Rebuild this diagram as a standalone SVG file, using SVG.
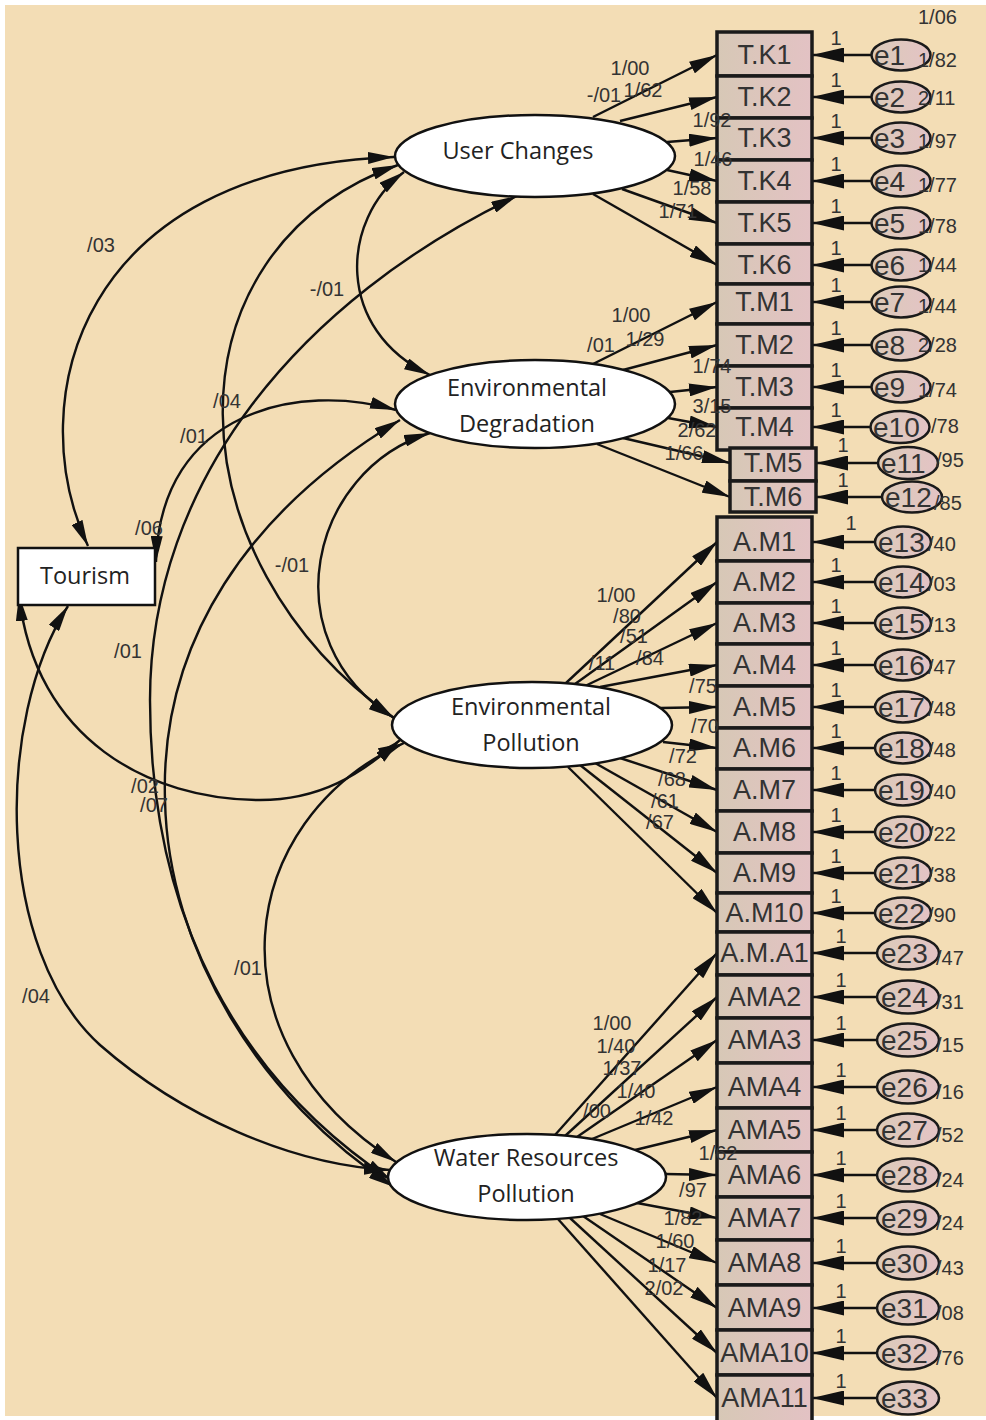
<svg xmlns="http://www.w3.org/2000/svg" width="986" height="1420" viewBox="0 0 986 1420">
<defs>
<style>
.ln{fill:none;stroke:#111;stroke-width:2.4}
.cv{marker-start:url(#ahc);marker-end:url(#ahc)}
.ld{marker-end:url(#ah)}
.er{marker-end:url(#ahe)}
.box{fill:url(#bg);stroke:#1a1a1a;stroke-width:3.5}
.err{fill:url(#eg);stroke:#1a1a1a;stroke-width:2.5}
.lat{fill:#fff;stroke:#111;stroke-width:2.5}
.bt{font-family:"Liberation Sans",Arial,sans-serif;font-size:27px;fill:#333;text-anchor:middle}
.et{font-family:"Liberation Sans",Arial,sans-serif;font-size:28px;fill:#333}
.num{font-family:"Liberation Sans",Arial,sans-serif;font-size:20px;fill:#333}
.nm{font-family:"Liberation Sans",Arial,sans-serif;font-size:20px;fill:#333;text-anchor:middle}
.lt{font-family:"Open Sans","Noto Sans",sans-serif;font-size:23.5px;fill:#222;text-anchor:middle}
</style>
<linearGradient id="bg" x1="0" y1="0" x2="1" y2="0"><stop offset="0" stop-color="#D7C8B6"/><stop offset="1" stop-color="#E3C2C4"/></linearGradient>
<linearGradient id="eg" x1="0" y1="0" x2="1" y2="0"><stop offset="0" stop-color="#DCCBB9"/><stop offset="1" stop-color="#E3C3C5"/></linearGradient>
<marker id="ah" viewBox="0 0 28 13" refX="28" refY="6.5" markerWidth="28" markerHeight="13" markerUnits="userSpaceOnUse" orient="auto-start-reverse"><path d="M0,0L28,6.5L0,13z" fill="#111"/></marker>
<marker id="ahe" viewBox="0 0 32 15" refX="32" refY="7.5" markerWidth="32" markerHeight="15" markerUnits="userSpaceOnUse" orient="auto-start-reverse"><path d="M0,0L32,7.5L0,15z" fill="#111"/></marker>
<marker id="ahc" viewBox="0 0 26 12" refX="26" refY="6" markerWidth="26" markerHeight="12" markerUnits="userSpaceOnUse" orient="auto-start-reverse"><path d="M0,0L26,6L0,12z" fill="#111"/></marker>
</defs>
<rect x="0" y="0" width="986" height="1420" fill="#fff"/>
<rect x="5" y="5" width="981" height="1411" fill="#F3DDB5"/>

<g id="connectors">
<path class="ln cv" d="M88,546 C20,400 80,168 394,157"/>
<path class="ln cv" d="M404,172 C340,220 335,330 430,375"/>
<path class="ln cv" d="M398,165 C160,250 170,560 394,718"/>
<path class="ln cv" d="M517,196 C300,300 150,480 150,700 C150,920 240,1080 391,1180"/>
<path class="ln cv" d="M400,420 C250,510 160,640 165,800 C168,950 260,1100 394,1187"/>
<path class="ln cv" d="M396,410 C300,382 160,410 156,562"/>
<path class="ln cv" d="M430,433 C310,470 270,640 394,718"/>
<path class="ln cv" d="M19,595 C35,740 150,800 260,800 C320,800 360,775 400,740"/>
<path class="ln cv" d="M68,606 C-5,720 -5,950 100,1045 C180,1115 290,1165 390,1170"/>
<path class="ln cv" d="M404,743 C235,820 205,1040 396,1162"/>
<path class="ln ld" d="M593,117 L717,55"/>
<path class="ln ld" d="M620,121 L717,97"/>
<path class="ln ld" d="M667,142 L717,138"/>
<path class="ln ld" d="M667,170 L717,181"/>
<path class="ln ld" d="M622,189 L717,223"/>
<path class="ln ld" d="M593,194 L717,265"/>
<path class="ln ld" d="M593,364 L717,302"/>
<path class="ln ld" d="M623,370 L717,345"/>
<path class="ln ld" d="M670,392 L717,387"/>
<path class="ln ld" d="M668,418 L717,427"/>
<path class="ln ld" d="M623,438 L730,463"/>
<path class="ln ld" d="M597,444 L730,497"/>
<path class="ln ld" d="M566,683 L717,542"/>
<path class="ln ld" d="M575,684 L717,582"/>
<path class="ln ld" d="M585,686 L717,623"/>
<path class="ln ld" d="M600,687 L717,665"/>
<path class="ln ld" d="M660,708 L717,707"/>
<path class="ln ld" d="M663,742 L717,748"/>
<path class="ln ld" d="M620,758 L717,790"/>
<path class="ln ld" d="M595,763 L717,832"/>
<path class="ln ld" d="M580,765 L717,873"/>
<path class="ln ld" d="M568,767 L717,913"/>
<path class="ln ld" d="M555,1135 L717,953"/>
<path class="ln ld" d="M565,1136 L717,997"/>
<path class="ln ld" d="M577,1137 L717,1040"/>
<path class="ln ld" d="M592,1139 L717,1087"/>
<path class="ln ld" d="M635,1150 L717,1130"/>
<path class="ln ld" d="M665,1174 L717,1175"/>
<path class="ln ld" d="M637,1203 L717,1218"/>
<path class="ln ld" d="M600,1214 L717,1263"/>
<path class="ln ld" d="M583,1216 L717,1308"/>
<path class="ln ld" d="M570,1218 L717,1353"/>
<path class="ln ld" d="M558,1219 L717,1398"/>
<path class="ln er" d="M871,55 L812,55"/>
<path class="ln er" d="M871,97 L812,97"/>
<path class="ln er" d="M871,138 L812,138"/>
<path class="ln er" d="M871,181 L812,181"/>
<path class="ln er" d="M871,223 L812,223"/>
<path class="ln er" d="M871,265 L812,265"/>
<path class="ln er" d="M871,302 L812,302"/>
<path class="ln er" d="M871,345 L812,345"/>
<path class="ln er" d="M871,387 L812,387"/>
<path class="ln er" d="M870,427 L812,427"/>
<path class="ln er" d="M878,463 L816,463"/>
<path class="ln er" d="M882,497 L816,497"/>
<path class="ln er" d="M875,542 L812,542"/>
<path class="ln er" d="M875,582 L812,582"/>
<path class="ln er" d="M875,623 L812,623"/>
<path class="ln er" d="M875,665 L812,665"/>
<path class="ln er" d="M875,707 L812,707"/>
<path class="ln er" d="M875,748 L812,748"/>
<path class="ln er" d="M875,790 L812,790"/>
<path class="ln er" d="M875,832 L812,832"/>
<path class="ln er" d="M875,873 L812,873"/>
<path class="ln er" d="M875,913 L812,913"/>
<path class="ln er" d="M877,953 L812,953"/>
<path class="ln er" d="M877,997 L812,997"/>
<path class="ln er" d="M877,1040 L812,1040"/>
<path class="ln er" d="M877,1087 L812,1087"/>
<path class="ln er" d="M877,1130 L812,1130"/>
<path class="ln er" d="M877,1175 L812,1175"/>
<path class="ln er" d="M877,1218 L812,1218"/>
<path class="ln er" d="M877,1263 L812,1263"/>
<path class="ln er" d="M877,1308 L812,1308"/>
<path class="ln er" d="M877,1353 L812,1353"/>
<path class="ln er" d="M877,1398 L812,1398"/>
</g>

<g id="tourism"><rect x="18" y="548" width="137" height="57" fill="#fff" stroke="#111" stroke-width="2.5"/><text class="lt" x="85" y="584">Tourism</text></g>
<g id="user-changes"><ellipse class="lat" cx="535" cy="156" rx="140" ry="41"/><text class="lt" x="518" y="159">User Changes</text></g>
<g id="env-degradation"><ellipse class="lat" cx="535" cy="404" rx="140" ry="44"/><text class="lt" x="527" y="396">Environmental</text><text class="lt" x="527" y="432">Degradation</text></g>
<g id="env-pollution"><ellipse class="lat" cx="532" cy="725" rx="140" ry="43"/><text class="lt" x="531" y="715">Environmental</text><text class="lt" x="531" y="751">Pollution</text></g>
<g id="water-pollution"><ellipse class="lat" cx="527" cy="1177" rx="139" ry="43"/><text class="lt" x="526" y="1166">Water Resources</text><text class="lt" x="526" y="1202">Pollution</text></g>

<g id="TK1"><rect class="box" x="717" y="32" width="95" height="44"/><text class="bt" x="764.5" y="64">T.K1</text></g>
<g id="TK2"><rect class="box" x="717" y="76" width="95" height="42"/><text class="bt" x="764.5" y="106">T.K2</text></g>
<g id="TK3"><rect class="box" x="717" y="118" width="95" height="42"/><text class="bt" x="764.5" y="147">T.K3</text></g>
<g id="TK4"><rect class="box" x="717" y="160" width="95" height="42"/><text class="bt" x="764.5" y="190">T.K4</text></g>
<g id="TK5"><rect class="box" x="717" y="202" width="95" height="42"/><text class="bt" x="764.5" y="232">T.K5</text></g>
<g id="TK6"><rect class="box" x="717" y="244" width="95" height="40"/><text class="bt" x="764.5" y="274">T.K6</text></g>
<g id="TM1"><rect class="box" x="717" y="284" width="95" height="40"/><text class="bt" x="764.5" y="311">T.M1</text></g>
<g id="TM2"><rect class="box" x="717" y="324" width="95" height="42"/><text class="bt" x="764.5" y="354">T.M2</text></g>
<g id="TM3"><rect class="box" x="717" y="366" width="95" height="42"/><text class="bt" x="764.5" y="396">T.M3</text></g>
<g id="TM4"><rect class="box" x="717" y="408" width="95" height="42"/><text class="bt" x="764.5" y="436">T.M4</text></g>
<g id="TM5"><rect class="box" x="730" y="448" width="86" height="33"/><text class="bt" x="773" y="472">T.M5</text></g>
<g id="TM6"><rect class="box" x="730" y="481" width="86" height="31"/><text class="bt" x="773" y="506">T.M6</text></g>
<g id="AM1"><rect class="box" x="717" y="517" width="95" height="44"/><text class="bt" x="764.5" y="551">A.M1</text></g>
<g id="AM2"><rect class="box" x="717" y="561" width="95" height="42"/><text class="bt" x="764.5" y="591">A.M2</text></g>
<g id="AM3"><rect class="box" x="717" y="603" width="95" height="41"/><text class="bt" x="764.5" y="632">A.M3</text></g>
<g id="AM4"><rect class="box" x="717" y="644" width="95" height="42"/><text class="bt" x="764.5" y="674">A.M4</text></g>
<g id="AM5"><rect class="box" x="717" y="686" width="95" height="42"/><text class="bt" x="764.5" y="716">A.M5</text></g>
<g id="AM6"><rect class="box" x="717" y="728" width="95" height="41"/><text class="bt" x="764.5" y="757">A.M6</text></g>
<g id="AM7"><rect class="box" x="717" y="769" width="95" height="42"/><text class="bt" x="764.5" y="799">A.M7</text></g>
<g id="AM8"><rect class="box" x="717" y="811" width="95" height="42"/><text class="bt" x="764.5" y="841">A.M8</text></g>
<g id="AM9"><rect class="box" x="717" y="853" width="95" height="40"/><text class="bt" x="764.5" y="882">A.M9</text></g>
<g id="AM10"><rect class="box" x="717" y="893" width="95" height="39"/><text class="bt" x="764.5" y="922">A.M10</text></g>
<g id="AMA1"><rect class="box" x="717" y="932" width="95" height="43"/><text class="bt" x="764.5" y="962">A.M.A1</text></g>
<g id="AMA2"><rect class="box" x="717" y="975" width="95" height="43"/><text class="bt" x="764.5" y="1006">AMA2</text></g>
<g id="AMA3"><rect class="box" x="717" y="1018" width="95" height="45"/><text class="bt" x="764.5" y="1049">AMA3</text></g>
<g id="AMA4"><rect class="box" x="717" y="1063" width="95" height="45"/><text class="bt" x="764.5" y="1096">AMA4</text></g>
<g id="AMA5"><rect class="box" x="717" y="1108" width="95" height="44"/><text class="bt" x="764.5" y="1139">AMA5</text></g>
<g id="AMA6"><rect class="box" x="717" y="1152" width="95" height="45"/><text class="bt" x="764.5" y="1184">AMA6</text></g>
<g id="AMA7"><rect class="box" x="717" y="1197" width="95" height="43"/><text class="bt" x="764.5" y="1227">AMA7</text></g>
<g id="AMA8"><rect class="box" x="717" y="1240" width="95" height="45"/><text class="bt" x="764.5" y="1272">AMA8</text></g>
<g id="AMA9"><rect class="box" x="717" y="1285" width="95" height="45"/><text class="bt" x="764.5" y="1317">AMA9</text></g>
<g id="AMA10"><rect class="box" x="717" y="1330" width="95" height="45"/><text class="bt" x="764.5" y="1362">AMA10</text></g>
<g id="AMA11"><rect class="box" x="717" y="1375" width="95" height="48"/><text class="bt" x="764.5" y="1407">AMA11</text></g>

<g id="e1"><ellipse class="err" cx="901" cy="55" rx="29.5" ry="15.5"/><text class="et" x="874" y="65">e1</text></g>
<g id="e2"><ellipse class="err" cx="901" cy="97" rx="29.5" ry="15.5"/><text class="et" x="874" y="107">e2</text></g>
<g id="e3"><ellipse class="err" cx="901" cy="138" rx="29.5" ry="15.5"/><text class="et" x="874" y="148">e3</text></g>
<g id="e4"><ellipse class="err" cx="901" cy="181" rx="29.5" ry="15.5"/><text class="et" x="874" y="191">e4</text></g>
<g id="e5"><ellipse class="err" cx="901" cy="223" rx="29.5" ry="15.5"/><text class="et" x="874" y="233">e5</text></g>
<g id="e6"><ellipse class="err" cx="901" cy="265" rx="29.5" ry="15.5"/><text class="et" x="874" y="275">e6</text></g>
<g id="e7"><ellipse class="err" cx="901" cy="302" rx="29.5" ry="15.5"/><text class="et" x="874" y="312">e7</text></g>
<g id="e8"><ellipse class="err" cx="901" cy="345" rx="29.5" ry="15.5"/><text class="et" x="874" y="355">e8</text></g>
<g id="e9"><ellipse class="err" cx="901" cy="387" rx="29.5" ry="15.5"/><text class="et" x="874" y="397">e9</text></g>
<g id="e10"><ellipse class="err" cx="900" cy="427" rx="29.5" ry="16"/><text class="et" x="873" y="437">e10</text></g>
<g id="e11"><ellipse class="err" cx="908" cy="463" rx="30" ry="16"/><text class="et" x="881" y="473">e11</text></g>
<g id="e12"><ellipse class="err" cx="912" cy="497" rx="30" ry="15.5"/><text class="et" x="885" y="507">e12</text></g>
<g id="e13"><ellipse class="err" cx="903" cy="542" rx="28" ry="15.5"/><text class="et" x="878" y="552">e13</text></g>
<g id="e14"><ellipse class="err" cx="903" cy="582" rx="28" ry="15.5"/><text class="et" x="878" y="592">e14</text></g>
<g id="e15"><ellipse class="err" cx="903" cy="623" rx="28" ry="15.5"/><text class="et" x="878" y="633">e15</text></g>
<g id="e16"><ellipse class="err" cx="903" cy="665" rx="28" ry="15.5"/><text class="et" x="878" y="675">e16</text></g>
<g id="e17"><ellipse class="err" cx="903" cy="707" rx="28" ry="15.5"/><text class="et" x="878" y="717">e17</text></g>
<g id="e18"><ellipse class="err" cx="903" cy="748" rx="28" ry="15.5"/><text class="et" x="878" y="758">e18</text></g>
<g id="e19"><ellipse class="err" cx="903" cy="790" rx="28" ry="15.5"/><text class="et" x="878" y="800">e19</text></g>
<g id="e20"><ellipse class="err" cx="903" cy="832" rx="28" ry="15.5"/><text class="et" x="878" y="842">e20</text></g>
<g id="e21"><ellipse class="err" cx="903" cy="873" rx="28" ry="15.5"/><text class="et" x="878" y="883">e21</text></g>
<g id="e22"><ellipse class="err" cx="903" cy="913" rx="28" ry="15.5"/><text class="et" x="878" y="923">e22</text></g>
<g id="e23"><ellipse class="err" cx="908" cy="953" rx="31" ry="16.5"/><text class="et" x="881" y="963">e23</text></g>
<g id="e24"><ellipse class="err" cx="908" cy="997" rx="31" ry="16.5"/><text class="et" x="881" y="1007">e24</text></g>
<g id="e25"><ellipse class="err" cx="908" cy="1040" rx="31" ry="16.5"/><text class="et" x="881" y="1050">e25</text></g>
<g id="e26"><ellipse class="err" cx="908" cy="1087" rx="31" ry="16.5"/><text class="et" x="881" y="1097">e26</text></g>
<g id="e27"><ellipse class="err" cx="908" cy="1130" rx="31" ry="16.5"/><text class="et" x="881" y="1140">e27</text></g>
<g id="e28"><ellipse class="err" cx="908" cy="1175" rx="31" ry="16.5"/><text class="et" x="881" y="1185">e28</text></g>
<g id="e29"><ellipse class="err" cx="908" cy="1218" rx="31" ry="16.5"/><text class="et" x="881" y="1228">e29</text></g>
<g id="e30"><ellipse class="err" cx="908" cy="1263" rx="31" ry="16.5"/><text class="et" x="881" y="1273">e30</text></g>
<g id="e31"><ellipse class="err" cx="908" cy="1308" rx="31" ry="16.5"/><text class="et" x="881" y="1318">e31</text></g>
<g id="e32"><ellipse class="err" cx="908" cy="1353" rx="31" ry="16.5"/><text class="et" x="881" y="1363">e32</text></g>
<g id="e33"><ellipse class="err" cx="908" cy="1398" rx="31" ry="16.5"/><text class="et" x="881" y="1408">e33</text></g>

<g id="labels">
<text class="nm" x="101" y="252">/03</text>
<text class="nm" x="327" y="296">-/01</text>
<text class="nm" x="227" y="408">/04</text>
<text class="nm" x="194" y="443">/01</text>
<text class="nm" x="149" y="535">/06</text>
<text class="nm" x="292" y="572">-/01</text>
<text class="nm" x="128" y="658">/01</text>
<text class="nm" x="145" y="793">/02</text>
<text class="nm" x="154" y="812">/07</text>
<text class="nm" x="248" y="975">/01</text>
<text class="nm" x="36" y="1003">/04</text>
<text class="nm" x="630" y="75">1/00</text>
<text class="nm" x="604" y="102">-/01</text>
<text class="nm" x="643" y="97">1/62</text>
<text class="nm" x="712" y="127">1/92</text>
<text class="nm" x="713" y="166">1/46</text>
<text class="nm" x="692" y="195">1/58</text>
<text class="nm" x="678" y="218">1/71</text>
<text class="nm" x="631" y="322">1/00</text>
<text class="nm" x="601" y="352">/01</text>
<text class="nm" x="645" y="346">1/29</text>
<text class="nm" x="712" y="373">1/74</text>
<text class="nm" x="712" y="413">3/15</text>
<text class="nm" x="697" y="437">2/62</text>
<text class="nm" x="684" y="460">1/66</text>
<text class="nm" x="616" y="602">1/00</text>
<text class="nm" x="627" y="623">/80</text>
<text class="nm" x="634" y="643">/51</text>
<text class="nm" x="602" y="670">/11</text>
<text class="nm" x="650" y="665">/84</text>
<text class="nm" x="703" y="693">/75</text>
<text class="nm" x="705" y="733">/70</text>
<text class="nm" x="683" y="763">/72</text>
<text class="nm" x="672" y="786">/68</text>
<text class="nm" x="665" y="808">/61</text>
<text class="nm" x="660" y="829">/67</text>
<text class="nm" x="612" y="1030">1/00</text>
<text class="nm" x="616" y="1053">1/40</text>
<text class="nm" x="622" y="1075">1/37</text>
<text class="nm" x="636" y="1098">1/40</text>
<text class="nm" x="597" y="1118">/00</text>
<text class="nm" x="654" y="1125">1/42</text>
<text class="nm" x="718" y="1160">1/62</text>
<text class="nm" x="693" y="1197">/97</text>
<text class="nm" x="683" y="1225">1/82</text>
<text class="nm" x="675" y="1248">1/60</text>
<text class="nm" x="667" y="1272">1/17</text>
<text class="nm" x="664" y="1295">2/02</text>
<text class="nm" x="836" y="45">1</text>
<text class="nm" x="836" y="87">1</text>
<text class="nm" x="836" y="128">1</text>
<text class="nm" x="836" y="171">1</text>
<text class="nm" x="836" y="213">1</text>
<text class="nm" x="836" y="255">1</text>
<text class="nm" x="836" y="292">1</text>
<text class="nm" x="836" y="335">1</text>
<text class="nm" x="836" y="377">1</text>
<text class="nm" x="836" y="417">1</text>
<text class="nm" x="843" y="452">1</text>
<text class="nm" x="843" y="487">1</text>
<text class="nm" x="851" y="530">1</text>
<text class="nm" x="836" y="572">1</text>
<text class="nm" x="836" y="613">1</text>
<text class="nm" x="836" y="655">1</text>
<text class="nm" x="836" y="697">1</text>
<text class="nm" x="836" y="738">1</text>
<text class="nm" x="836" y="780">1</text>
<text class="nm" x="836" y="822">1</text>
<text class="nm" x="836" y="863">1</text>
<text class="nm" x="836" y="903">1</text>
<text class="nm" x="841" y="943">1</text>
<text class="nm" x="841" y="987">1</text>
<text class="nm" x="841" y="1030">1</text>
<text class="nm" x="841" y="1077">1</text>
<text class="nm" x="841" y="1120">1</text>
<text class="nm" x="841" y="1165">1</text>
<text class="nm" x="841" y="1208">1</text>
<text class="nm" x="841" y="1253">1</text>
<text class="nm" x="841" y="1298">1</text>
<text class="nm" x="841" y="1343">1</text>
<text class="nm" x="841" y="1388">1</text>
<text class="num" x="918" y="24">1/06</text>
<text class="num" x="918" y="67">1/82</text>
<text class="num" x="918" y="105">2/11</text>
<text class="num" x="918" y="148">1/97</text>
<text class="num" x="918" y="192">1/77</text>
<text class="num" x="918" y="233">1/78</text>
<text class="num" x="918" y="272">1/44</text>
<text class="num" x="918" y="313">1/44</text>
<text class="num" x="918" y="352">2/28</text>
<text class="num" x="918" y="397">1/74</text>
<text class="num" x="931" y="433">/78</text>
<text class="num" x="936" y="467">/95</text>
<text class="num" x="934" y="510">/85</text>
<text class="num" x="928" y="551">/40</text>
<text class="num" x="928" y="591">/03</text>
<text class="num" x="928" y="632">/13</text>
<text class="num" x="928" y="674">/47</text>
<text class="num" x="928" y="716">/48</text>
<text class="num" x="928" y="757">/48</text>
<text class="num" x="928" y="799">/40</text>
<text class="num" x="928" y="841">/22</text>
<text class="num" x="928" y="882">/38</text>
<text class="num" x="928" y="922">/90</text>
<text class="num" x="936" y="965">/47</text>
<text class="num" x="936" y="1009">/31</text>
<text class="num" x="936" y="1052">/15</text>
<text class="num" x="936" y="1099">/16</text>
<text class="num" x="936" y="1142">/52</text>
<text class="num" x="936" y="1187">/24</text>
<text class="num" x="936" y="1230">/24</text>
<text class="num" x="936" y="1275">/43</text>
<text class="num" x="936" y="1320">/08</text>
<text class="num" x="936" y="1365">/76</text>
</g>
</svg>
